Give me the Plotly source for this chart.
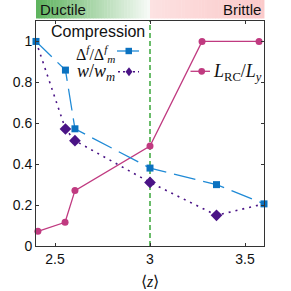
import plotly.graph_objects as go

# ---- data ----
x_delta = [2.4, 2.555, 2.605, 3.0, 3.35, 3.6]
y_delta = [1.0, 0.86, 0.573, 0.381, 0.30, 0.206]

x_w = [2.4, 2.555, 2.605, 3.0, 3.35, 3.6]
y_w = [1.0, 0.572, 0.515, 0.311, 0.150, 0.206]

x_L = [2.41, 2.553, 2.605, 3.0, 3.274, 3.574]
y_L = [0.072, 0.116, 0.271, 0.489, 1.0, 1.0]

y_ticks = [0, 0.2, 0.4, 0.6, 0.8, 1.0]
y_ticklabels = ["0", "0.2", "0.4", "0.6", "0.8", "1"]
x_ticks = [2.5, 3.0, 3.5]
x_ticklabels = ["2.5", "3", "3.5"]

BLUE = "#0b72c0"
BLUE_LINE = "#1f8ad6"
PURPLE = "#4a1486"
PINK = "#c03a80"
GREEN = "#2ca02c"

W, H = 291, 291
ML, MR, MT, MB = 36, 27, 21, 45
PW, PH = W - ML - MR, H - MT - MB


def px(x):
    return (x - ML) / PW


def py(y):
    return (H - MB - y) / PH


fig = go.Figure()

fig.add_trace(go.Scatter(x=x_L, y=y_L, mode="lines+markers",
                         line=dict(color=PINK, width=1.3),
                         marker=dict(symbol="circle", size=7, color=PINK),
                         cliponaxis=False, showlegend=False, hoverinfo="skip"))
fig.add_trace(go.Scatter(x=x_w, y=y_w, mode="lines",
                         line=dict(color=PURPLE, width=1.6, dash="2px,5px"),
                         cliponaxis=False, showlegend=False, hoverinfo="skip"))
fig.add_trace(go.Scatter(x=x_w[1:5], y=y_w[1:5], mode="markers",
                         marker=dict(symbol="diamond", size=9, color=PURPLE,
                                     line=dict(width=0)),
                         cliponaxis=False, showlegend=False, hoverinfo="skip"))
fig.add_trace(go.Scatter(x=x_delta, y=y_delta, mode="lines+markers",
                         line=dict(color=BLUE_LINE, width=1.3, dash="22px,8px"),
                         marker=dict(symbol="square", size=7, color=BLUE),
                         cliponaxis=False, showlegend=False, hoverinfo="skip"))

shapes = []
shapes.append(dict(type="line", xref="x", yref="paper", x0=3, x1=3, y0=0, y1=1,
                   line=dict(color=GREEN, width=1.4, dash="5px,3px"), layer="below"))

band_y0 = py(18.5)
band_y1 = py(0)
n = 40
x_left, x_mid, x_right = 36, 150, 264
for i in range(n):
    t = i / (n - 1)
    r = int(95 + (246 - 95) * t)
    g = int(180 + (250 - 180) * t)
    b = int(95 + (246 - 95) * t)
    a = x_left + (x_mid - x_left) * i / n
    c = x_left + (x_mid - x_left) * (i + 1) / n
    shapes.append(dict(type="rect", xref="paper", yref="paper",
                       x0=px(a), x1=px(c) + 0.002, y0=band_y0, y1=band_y1,
                       fillcolor=f"rgb({r},{g},{b})", line=dict(width=0)))
for i in range(n):
    t = i / (n - 1)
    r = int(253 - 2 * t)
    g = int(226 - 24 * t)
    b = int(226 - 24 * t)
    a = x_mid + (x_right - x_mid) * i / n
    c = x_mid + (x_right - x_mid) * (i + 1) / n
    shapes.append(dict(type="rect", xref="paper", yref="paper",
                       x0=px(a), x1=px(c) + 0.002, y0=band_y0, y1=band_y1,
                       fillcolor=f"rgb({r},{g},{b})", line=dict(width=0)))


def hline(x0, x1, y, color, dash="solid", width=1.3):
    shapes.append(dict(type="line", xref="paper", yref="paper",
                       x0=px(x0), x1=px(x1), y0=py(y), y1=py(y),
                       line=dict(color=color, width=width, dash=dash)))


hline(117, 139, 51, BLUE_LINE)
shapes.append(dict(type="rect", xref="paper", yref="paper",
                   x0=px(125.5), x1=px(132), y0=py(54.2), y1=py(47.8),
                   fillcolor=BLUE, line=dict(width=0)))
hline(118, 139, 71.7, PURPLE, dash="2px,3px", width=1.5)
cx, cy = 129, 71.7
shapes.append(dict(type="path", xref="paper", yref="paper",
                   path=f"M {px(cx-3.5)} {py(cy)} L {px(cx)} {py(cy-4.5)} L {px(cx+3.5)} {py(cy)} L {px(cx)} {py(cy+4.5)} Z",
                   fillcolor=PURPLE, line=dict(width=0)))
hline(190.5, 210, 71.3, PINK)
shapes.append(dict(type="circle", xref="paper", yref="paper",
                   x0=px(198.3), x1=px(205.1), y0=py(74.7), y1=py(67.9),
                   fillcolor=PINK, line=dict(width=0)))

annotations = [
    dict(text="Ductile", xref="paper", yref="paper", x=px(38), y=py(9.5),
         xanchor="left", yanchor="middle", showarrow=False,
         font=dict(family="Liberation Sans, Arial", size=15, color="#111")),
    dict(text="Brittle", xref="paper", yref="paper", x=px(263), y=py(9.5),
         xanchor="right", yanchor="middle", showarrow=False,
         font=dict(family="Liberation Sans, Arial", size=15, color="#111")),
    dict(text="Compression", xref="paper", yref="paper", x=px(98), y=py(32),
         xanchor="center", yanchor="middle", showarrow=False,
         font=dict(family="Liberation Sans, Arial", size=16, color="#111")),
    dict(text="Δ<sup><i>f</i></sup>/Δ<sup><i>f</i></sup><sub><i>m</i></sub>",
         xref="paper", yref="paper", x=px(117), y=py(53.5),
         xanchor="right", yanchor="middle", showarrow=False,
         font=dict(family="Liberation Serif, serif", size=16, color="#111")),
    dict(text="<i>w</i>/<i>w</i><sub><i>m</i></sub>",
         xref="paper", yref="paper", x=px(117), y=py(72),
         xanchor="right", yanchor="middle", showarrow=False,
         font=dict(family="Liberation Serif, serif", size=18, color="#111")),
    dict(text="<i>L</i><sub>RC</sub>/<i>L</i><sub><i>y</i></sub>",
         xref="paper", yref="paper", x=px(211), y=py(72),
         xanchor="left", yanchor="middle", showarrow=False,
         font=dict(family="Liberation Serif, serif", size=18, color="#111")),
    dict(text="⟨<i>z</i>⟩", xref="paper", yref="paper", x=px(150), y=py(281),
         xanchor="center", yanchor="middle", showarrow=False,
         font=dict(family="Liberation Serif, serif", size=16, color="#111")),
]

fig.update_layout(
    width=W, height=H,
    margin=dict(l=ML, r=MR, t=MT, b=MB),
    paper_bgcolor="white", plot_bgcolor="white",
    shapes=shapes, annotations=annotations, hovermode=False,
    font=dict(family="Liberation Sans, Arial", size=14, color="#111"),
)
fig.update_xaxes(range=[2.4, 3.6], tickvals=x_ticks, ticktext=x_ticklabels,
                 showgrid=False, zeroline=False, showline=True, linecolor="#333",
                 linewidth=1, mirror="ticks", ticks="inside", ticklen=3,
                 tickcolor="#333", tickfont=dict(size=14))
fig.update_yaxes(range=[0, 1.1], tickvals=y_ticks, ticktext=y_ticklabels,
                 showgrid=False, zeroline=False, showline=True, linecolor="#333",
                 linewidth=1, mirror="ticks", ticks="inside", ticklen=3,
                 tickcolor="#333", tickfont=dict(size=14))

fig.write_html("out.html", config={"displayModeBar": False, "staticPlot": True},
               post_script="document.body.style.margin='0';document.body.style.padding='0';")
